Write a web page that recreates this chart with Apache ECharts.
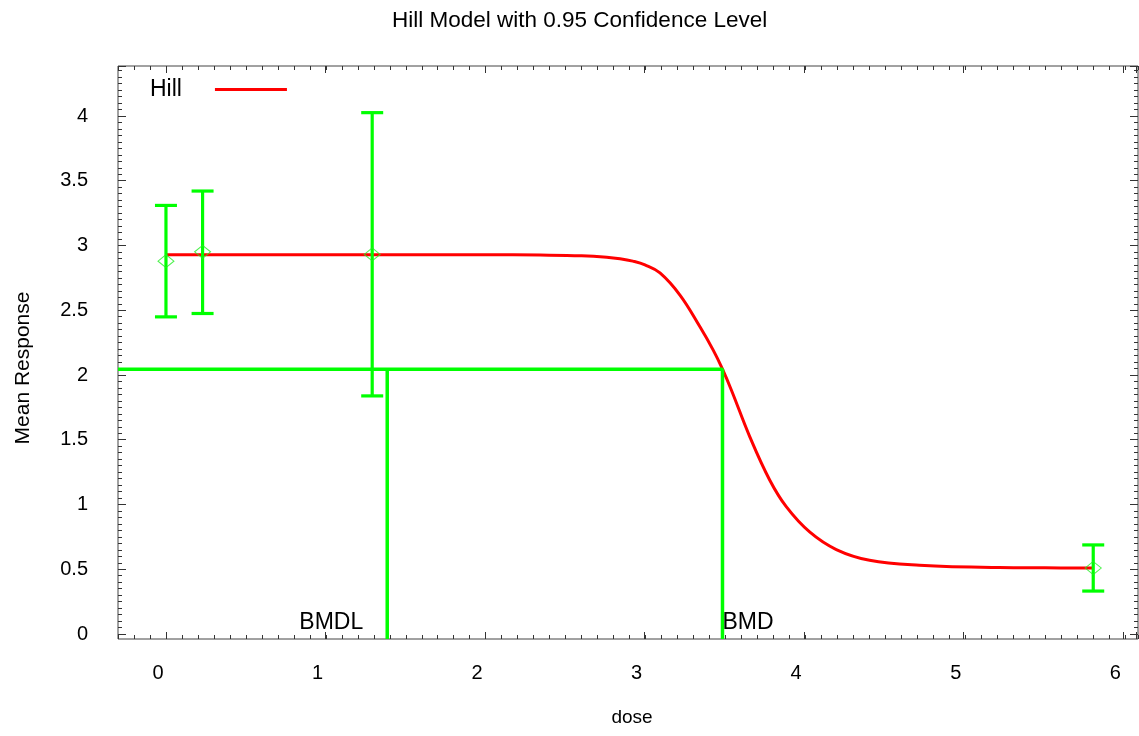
<!DOCTYPE html>
<html><head><meta charset="utf-8">
<script src="https://cdn.jsdelivr.net/npm/echarts@6/dist/echarts.min.js"></script>
<style>html,body{margin:0;padding:0;background:#fff}#c{width:1139px;height:736px}</style>
</head><body><div id="c"></div>
<script>
// ---- data ----
const doses = [0, 0.229, 1.29, 5.80];
const means = [2.880, 2.952, 2.932, 0.512];
const lowerCI = [2.45, 2.476, 1.840, 0.334];
const upperCI = [3.31, 3.421, 4.026, 0.690];
const curveX = [0, 0.5, 1.0, 1.5, 2.0, 2.341, 2.6, 2.757, 2.840, 2.920, 2.996, 3.090, 3.215, 3.340, 3.423, 3.479, 3.537, 3.652, 3.777, 3.881, 4.026, 4.193, 4.401, 4.713, 5.212, 5.5, 5.80];
const curveY = [2.93, 2.93, 2.93, 2.93, 2.929, 2.927, 2.922, 2.911, 2.899, 2.880, 2.851, 2.789, 2.618, 2.373, 2.193, 2.052, 1.884, 1.524, 1.189, 0.983, 0.790, 0.654, 0.571, 0.533, 0.515, 0.513, 0.512];
const bmd = 3.481;
const bmdl = 1.384;
const bmdResponse = 2.046;
const bmdLabels = ['BMDL', 'BMD'];
const xTickLabels = ['0', '1', '2', '3', '4', '5', '6'];
const yTickLabels = ['0', '0.5', '1', '1.5', '2', '2.5', '3', '3.5', '4'];

// ---- axis extents ----
const xMin = -0.3, xMax = 6.08;
const yMin = -0.036, yMax = 4.386;
const FONT = 'Liberation Sans';
const TICK = '#333';

const chart = echarts.init(document.getElementById('c'), null, {renderer: 'canvas'});

function hiddenX(grid, min) { return {type: 'value', gridIndex: grid, min: min, max: xMax, show: false, axisLine: {onZero: false}}; }
function hiddenY(grid, min) { return {type: 'value', gridIndex: grid, min: min, max: yMax, show: false, axisLine: {onZero: false}}; }
function tickAxis(base, len, interval) {
  return Object.assign({
    type: 'value', interval: interval, max: base.dim === 'x' ? xMax : yMax,
    axisLine: {show: false, onZero: false}, splitLine: {show: false},
    axisTick: {show: true, inside: true, length: len, lineStyle: {color: TICK, width: 1}},
    axisLabel: {show: false}
  }, base.opt);
}

const xLabelFmt = v => {
  const i = Math.round(v);
  if (Math.abs(v - i) < 1e-6 && i >= 0 && i < xTickLabels.length) return '{t|' + xTickLabels[i] + '}';
  return '';
};
const yLabelFmt = v => {
  const i = Math.round(v / 0.5);
  if (Math.abs(v - i * 0.5) < 1e-6 && i >= 0 && i < yTickLabels.length) return yTickLabels[i];
  return '';
};

const option = {
  backgroundColor: '#fff',
  animation: false,
  title: {
    text: 'Hill Model with 0.95 Confidence Level',
    left: 387, top: 4,
    textStyle: {fontFamily: FONT, fontSize: 22.5, fontWeight: 'normal', color: '#000'}
  },
  legend: {
    data: ['Hill'], left: 145, top: 73, align: 'right',
    icon: 'rect', itemWidth: 72, itemHeight: 3,
    textStyle: {fontFamily: FONT, fontSize: 23, color: '#000', padding: [0, 28, 0, 0]}
  },
  grid: [
    {left: 118, right: 1, top: 66, bottom: 97, show: true, borderColor: '#444', borderWidth: 1, backgroundColor: 'transparent'},
    {left: 166, right: 1, top: 66, bottom: 97, show: false},
    {left: 118, right: 1, top: 66, bottom: 102, show: false}
  ],
  xAxis: [
    hiddenX(0, xMin),
    tickAxis({dim: 'x', opt: {gridIndex: 0, min: xMin, position: 'bottom'}}, 4, 0.1),
    tickAxis({dim: 'x', opt: {gridIndex: 0, min: xMin, position: 'top'}}, 4, 0.1),
    tickAxis({dim: 'x', opt: {gridIndex: 1, min: 0, position: 'bottom',
      axisLabel: {show: true, margin: 24, formatter: xLabelFmt,
        rich: {t: {fontFamily: FONT, fontSize: 20, color: '#000', padding: [0, 16, 0, 0]}}}}}, 7, 1),
    tickAxis({dim: 'x', opt: {gridIndex: 1, min: 0, position: 'top'}}, 7, 1),
    hiddenX(2, xMin)
  ],
  yAxis: [
    hiddenY(0, yMin),
    hiddenY(1, yMin),
    tickAxis({dim: 'y', opt: {gridIndex: 2, min: 0, position: 'left'}}, 4, 0.05),
    tickAxis({dim: 'y', opt: {gridIndex: 2, min: 0, position: 'right'}}, 4, 0.05),
    tickAxis({dim: 'y', opt: {gridIndex: 2, min: 0, position: 'left',
      axisLabel: {show: true, margin: 30, formatter: yLabelFmt, fontFamily: FONT, fontSize: 20, color: '#000'}}}, 8, 0.5),
    tickAxis({dim: 'y', opt: {gridIndex: 2, min: 0, position: 'right'}}, 8, 0.5)
  ],
  graphic: [
    {type: 'text', x: 632, y: 718, style: {text: 'dose', fontFamily: FONT, fontSize: 19, fill: '#000', align: 'center', verticalAlign: 'middle'}},
    {type: 'text', x: 23, y: 368, rotation: Math.PI / 2, style: {text: 'Mean Response', fontFamily: FONT, fontSize: 21, fill: '#000', align: 'center', verticalAlign: 'middle'}}
  ],
  series: [
    {
      name: 'Hill', type: 'line', xAxisIndex: 0, yAxisIndex: 0,
      data: curveX.map((x, i) => [x, curveY[i]]),
      smooth: 0.4, showSymbol: false, symbol: 'none',
      lineStyle: {color: '#ff0000', width: 3}, itemStyle: {color: '#ff0000'}, z: 2
    },
    {
      name: 'BMD lines', type: 'line', xAxisIndex: 0, yAxisIndex: 0,
      data: [[xMin, bmdResponse], [bmd, bmdResponse], [bmd, yMin]],
      showSymbol: false, symbol: 'none', lineStyle: {color: '#00ff00', width: 3.5}, z: 3
    },
    {
      name: 'BMDL line', type: 'line', xAxisIndex: 0, yAxisIndex: 0,
      data: [[bmdl, bmdResponse], [bmdl, yMin]],
      showSymbol: false, symbol: 'none', lineStyle: {color: '#00ff00', width: 3.5}, z: 3
    },
    {
      name: 'CI', type: 'custom', xAxisIndex: 0, yAxisIndex: 0,
      data: doses.map((d, i) => [d, lowerCI[i], upperCI[i]]),
      encode: {x: 0, y: [1, 2]},
      renderItem: function (params, api) {
        const x = api.value(0);
        const pLo = api.coord([x, api.value(1)]);
        const pHi = api.coord([x, api.value(2)]);
        const cap = 11;
        const style = {stroke: '#00ff00', lineWidth: 3.2};
        return {type: 'group', children: [
          {type: 'line', shape: {x1: pLo[0], y1: pLo[1], x2: pHi[0], y2: pHi[1]}, style: style},
          {type: 'line', shape: {x1: pLo[0] - cap, y1: pLo[1], x2: pLo[0] + cap, y2: pLo[1]}, style: style},
          {type: 'line', shape: {x1: pHi[0] - cap, y1: pHi[1], x2: pHi[0] + cap, y2: pHi[1]}, style: style}
        ]};
      },
      z: 4
    },
    {
      name: 'Means', type: 'scatter', xAxisIndex: 0, yAxisIndex: 0,
      data: doses.map((d, i) => [d, means[i]]),
      symbol: 'diamond', symbolSize: [16, 13],
      itemStyle: {color: 'rgba(255,255,255,0)', borderColor: '#22ee22', borderWidth: 1}, z: 5
    },
    {
      name: 'BMD labels', type: 'custom', xAxisIndex: 0, yAxisIndex: 0,
      data: [[bmdl, 0, 0], [bmd, 0, 1]],
      encode: {x: 0, y: 1},
      renderItem: function (params, api) {
        const p = api.coord([api.value(0), api.value(1)]);
        const idx = api.value(2);
        const isL = idx === 0;
        return {type: 'text', x: isL ? p[0] - 24 : p[0], y: p[1] - 12,
          style: {text: bmdLabels[idx], fill: '#000', fontFamily: FONT, fontSize: 23,
            align: isL ? 'right' : 'left', verticalAlign: 'middle'}};
      },
      z: 6
    }
  ]
};
chart.setOption(option);
</script>
</body></html>
